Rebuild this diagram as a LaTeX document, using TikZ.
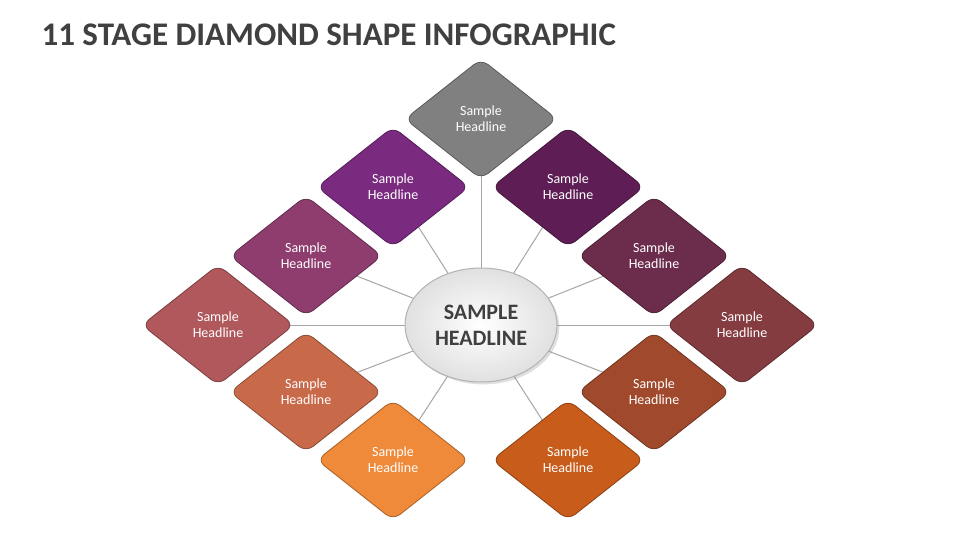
\documentclass[tikz,border=0pt]{standalone}
\usepackage{fontspec}
\setmainfont{Carlito}
\usetikzlibrary{shadows,shapes.geometric}
\definecolor{tgray}{HTML}{404040}
\begin{document}
\begin{tikzpicture}[x=1pt,y=-1pt,
  dia/.style={draw=#1!70!black, line width=0.8pt, fill=#1, rounded corners=9pt},
  lbl/.style={text=white, font=\fontsize{14}{16}\selectfont, align=center},
  conn/.style={draw=black!35, line width=1pt}]
\useasboundingbox (0,0) rectangle (960,540);
\fill[white] (0,0) rectangle (960,540);
\node[anchor=west, text=tgray, font=\bfseries\fontsize{33}{36}\selectfont] (title) at (38,35) {11 STAGE DIAMOND SHAPE INFOGRAPHIC};
\def\hw{76}\def\hh{60}
\foreach \n/\x/\y/\c in {a/481/119/808080, b/393/187/7A2A7F, c/568/187/5E1E55, d/306/256/8E3D6E, e/654/256/6C2C4C, f/218/325/B0585C, g/742/325/853C40, h/306/392/C8694A, i/654/392/A0492C, j/393/460/EE8A3A, k/568/460/C85C1A}{
  \coordinate (\n) at (\x,\y);
  \draw[conn] (481,325) -- (\n);
}
\foreach \n/\x/\y/\c in {a/481/119/808080, b/393/187/7A2A7F, c/568/187/5E1E55, d/306/256/8E3D6E, e/654/256/6C2C4C, f/218/325/B0585C, g/742/325/853C40, h/306/392/C8694A, i/654/392/A0492C, j/393/460/EE8A3A, k/568/460/C85C1A}{
  \definecolor{dc}{HTML}{\c}
  \draw[dia=dc] (\x-\hw,\y) -- (\x,\y-\hh) -- (\x+\hw,\y) -- (\x,\y+\hh) -- cycle;
  \node[lbl] (\n t) at (\x,\y) {Sample\\Headline};
}
\node[ellipse, draw=black!30, line width=1pt, inner color=white, outer color=black!12, minimum width=152pt, minimum height=114pt, drop shadow={opacity=0.25}, text=tgray, font=\bfseries\fontsize{22}{26}\selectfont, align=center] (ctr) at (481,325) {SAMPLE\\HEADLINE};
\end{tikzpicture}
\end{document}
